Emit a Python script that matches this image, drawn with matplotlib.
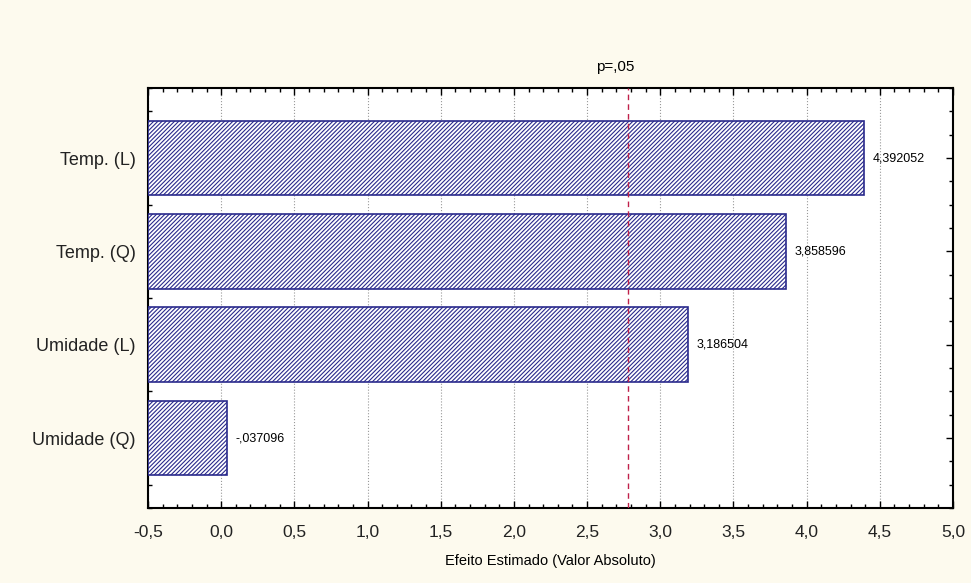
import matplotlib.pyplot as plt
import numpy as np
from matplotlib.ticker import MultipleLocator, FuncFormatter

plt.rcParams['font.family'] = ['Liberation Sans', 'DejaVu Sans']
plt.rcParams['hatch.linewidth'] = 0.8

# effects (signed), shown as absolute bars
factors = ['Temp. (L)', 'Temp. (Q)', 'Umidade (L)', 'Umidade (Q)']
effects = [4.392052, 3.858596, 3.186504, -0.037096]
p_limit = 2.776
labels = ['4,392052', '3,858596', '3,186504', '-,037096']

navy = '#2a2a8c'
bg = '#fdfaee'

fig = plt.figure(figsize=(9.71, 5.83), dpi=100, facecolor=bg)
ax = fig.add_axes([0.1524, 0.1286, 0.8291, 0.7204])

ypos = np.arange(len(factors))
widths = [abs(e) + 0.5 for e in effects]
ax.barh(ypos, widths, left=-0.5, height=0.8, color='white',
        edgecolor=navy, hatch='////////', linewidth=1.2, zorder=3)

for y, e, txt in zip(ypos, effects, labels):
    ax.text(abs(e) + 0.06, y, txt, va='center', ha='left', fontsize=9, zorder=4)

ax.axvline(p_limit, color='#c0204a', linestyle=(0, (4, 3)), linewidth=1.0, zorder=4)
ax.annotate('p=,05', xy=(p_limit, 1.0), xycoords=('data', 'axes fraction'),
            xytext=(-9, 12), textcoords='offset points', ha='center', fontsize=11)

ax.set_xlim(-0.5, 5.0)
ax.set_ylim(3.75, -0.75)
ax.set_yticks(ypos)
ax.set_yticklabels(factors, fontsize=13)
ax.xaxis.set_major_locator(MultipleLocator(0.5))
ax.xaxis.set_minor_locator(MultipleLocator(0.1))
ax.yaxis.set_minor_locator(MultipleLocator(0.25))
ax.xaxis.set_major_formatter(FuncFormatter(lambda v, p: f'{v:.1f}'.replace('.', ',')))
ax.tick_params(which='both', direction='in', top=True, right=True, color='black')
ax.tick_params(axis='x', labelsize=12.5, pad=12, labelcolor='#222222')
ax.tick_params(axis='y', pad=9, labelcolor='#222222')
ax.tick_params(which='major', length=5, width=1)
ax.tick_params(which='minor', length=3, width=1)
ax.grid(axis='x', which='major', linestyle=':', color='#999999', linewidth=0.8, zorder=0)
for s in ax.spines.values():
    s.set_linewidth(1.5)
ax.set_facecolor('white')
ax.set_xlabel('Efeito Estimado (Valor Absoluto)', fontsize=10.5, labelpad=10)

fig.savefig('out.png', dpi=100, facecolor=bg)
